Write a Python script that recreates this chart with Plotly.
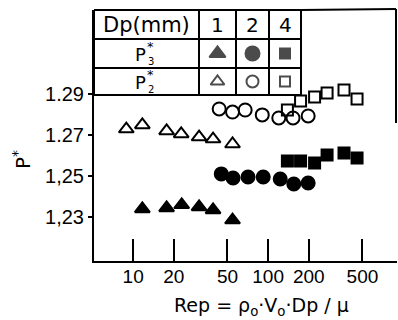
import plotly.graph_objects as go

# ---- data ----
rep_p3_d1 = [11.7, 17.7, 22.9, 30.8, 39.1, 54.5]
p3_d1 = [1.2339, 1.2344, 1.2359, 1.2349, 1.2334, 1.2285]
rep_p2_d1 = [8.9, 11.7, 17.7, 22.7, 30.8, 39.1, 54.5]
p2_d1 = [1.2729, 1.2749, 1.2720, 1.2705, 1.2690, 1.2680, 1.2656]
rep_p3_d2 = [45.0, 55.0, 71.0, 92.0, 123.0, 155.0, 198.0]
p3_d2 = [1.2510, 1.2490, 1.2495, 1.2495, 1.2485, 1.2461, 1.2466]
rep_p2_d2 = [43.4, 54.5, 67.6, 90.5, 120.0, 153.0, 198.0]
p2_d2 = [1.2827, 1.2812, 1.2822, 1.2798, 1.2783, 1.2783, 1.2793]
rep_p3_d4 = [139.0, 174.0, 221.0, 273.5, 365.0, 456.0]
p3_d4 = [1.2573, 1.2573, 1.2563, 1.2602, 1.2612, 1.2588]
rep_p2_d4 = [139.0, 174.0, 221.0, 273.5, 365.0, 456.0]
p2_d4 = [1.2822, 1.2866, 1.2885, 1.2905, 1.2920, 1.2876]

x_ticks = [10, 20, 50, 100, 200, 500]
y_ticks = [1.29, 1.27, 1.25, 1.23]
y_ticktext = ["1.29", "1.27", "1,25", "1,23"]
dp_labels = ["1", "2", "4"]
row_subs = ["3", "2"]

FONT = "DejaVu Sans"
TICKFONT = "Liberation Sans"
W, H = 398, 320
L, R, T, B = 94, 1, 10, 59
PW, PH = W - L - R, H - T - B


def fx(px):
    return (px - L) / PW


def fy(py):
    return (H - B - py) / PH


fig = go.Figure()

series = [
    (rep_p3_d1, p3_d1, "triangle-up", 13),
    (rep_p2_d1, p2_d1, "triangle-up-open", 13),
    (rep_p3_d2, p3_d2, "circle", 13),
    (rep_p2_d2, p2_d2, "circle-open", 13),
    (rep_p3_d4, p3_d4, "square", 11),
    (rep_p2_d4, p2_d4, "square-open", 11),
]
for xs, ys, sym, sz in series:
    fig.add_trace(go.Scatter(
        x=xs, y=ys, mode="markers",
        marker=dict(symbol=sym, size=sz, color="black",
                    line=dict(color="black", width=2)),
        showlegend=False, hoverinfo="skip"))

# ---- legend table ----
col_px = [94, 199, 236, 269, 301]
row_px = [10, 39, 68, 95]
line = dict(color="black", width=2)
shapes = []
for py in row_px:
    shapes.append(dict(type="line", xref="paper", yref="paper",
                       x0=fx(col_px[0]), x1=fx(col_px[-1]), y0=fy(py), y1=fy(py), line=line))
for px in col_px:
    shapes.append(dict(type="line", xref="paper", yref="paper",
                       x0=fx(px), x1=fx(px), y0=fy(row_px[0]), y1=fy(row_px[-1]), line=line))
# frame top and partial right border
shapes.append(dict(type="line", xref="paper", yref="paper",
                   x0=fx(col_px[-1]), x1=fx(396), y0=fy(10), y1=fy(9), line=line))
shapes.append(dict(type="line", xref="paper", yref="paper",
                   x0=fx(396), x1=fx(396), y0=fy(9), y1=fy(123), line=line))

col_c = [(col_px[i] + col_px[i + 1]) / 2 for i in range(len(col_px) - 1)]
row_c = [(row_px[i] + row_px[i + 1]) / 2 for i in range(len(row_px) - 1)]


def text(t, px, py, size, family=FONT, angle=0):
    return dict(text=t, x=fx(px), y=fy(py), xref="paper", yref="paper",
                xanchor="center", yanchor="middle", showarrow=False,
                textangle=angle, font=dict(family=family, size=size, color="black"))


ann = [text("Dp(mm)", col_c[0], row_c[0] + 1, 21)]
for i, lab in enumerate(dp_labels):
    ann.append(text(lab, col_c[i + 1], row_c[0] + 1, 20))
for j, sub in enumerate(row_subs):
    ann.append(text("P", col_c[0] - 6, row_c[j + 1] + 1, 18))
    ann.append(text("*", col_c[0] + 4, row_c[j + 1] - 7, 13))
    ann.append(text(sub, col_c[0] + 4, row_c[j + 1] + 8, 10))

# table markers on an overlay axis spanning the plot area (0..1)
tab_syms = [["triangle-up", "circle", "square"],
            ["triangle-up-open", "circle-open", "square-open"]]
tab_sizes = [[14, 14, 10], [12, 12, 10]]
for j in range(2):
    fig.add_trace(go.Scatter(
        x=[fx(c) for c in col_c[1:]], y=[fy(row_c[j + 1])] * 3,
        xaxis="x2", yaxis="y2", mode="markers",
        marker=dict(symbol=tab_syms[j], size=tab_sizes[j], color="black",
                    line=dict(color="black", width=2)),
        showlegend=False, hoverinfo="skip"))

# axis titles
ann.append(text("Rep = ρ<sub>o</sub>·V<sub>o</sub>·Dp / μ", 261, 306, 19))
ann.append(text("P<sup>*</sup>", 22, 160, 20, angle=-90))

fig.update_layout(
    width=W, height=H,
    margin=dict(l=L, r=R, t=T, b=B),
    paper_bgcolor="white", plot_bgcolor="white",
    font=dict(family=FONT, size=16, color="black"),
    xaxis=dict(type="log", range=[0.71, 2.955], tickvals=x_ticks,
               ticktext=[str(v) for v in x_ticks],
               ticks="inside", ticklen=22, tickwidth=2, tickcolor="black",
               showline=True, linewidth=2, linecolor="black",
               showgrid=False, zeroline=False, automargin=False,
               ticklabelstandoff=-3,
               tickfont=dict(family=TICKFONT, size=19, color="black")),
    yaxis=dict(range=[1.2085, 1.331], tickvals=y_ticks, ticktext=y_ticktext,
               ticks="outside", ticklen=4, tickwidth=2, tickcolor="black",
               showline=True, linewidth=2, linecolor="black",
               showgrid=False, zeroline=False, automargin=False,
               ticklabelstandoff=0,
               tickfont=dict(family=TICKFONT, size=20, color="black")),
    yaxis3=dict(overlaying="y", matches="y", tickvals=y_ticks,
                ticks="inside", ticklen=22, tickwidth=2, tickcolor="black",
                showticklabels=False, showline=False, showgrid=False, zeroline=False),
    xaxis2=dict(overlaying="x", range=[0, 1], visible=False, fixedrange=True),
    yaxis2=dict(overlaying="y", range=[0, 1], visible=False, fixedrange=True),
    shapes=shapes,
    annotations=ann,
)

fig.write_html("out.html", config={"displayModeBar": False},
               post_script="document.body.style.margin='0';")
